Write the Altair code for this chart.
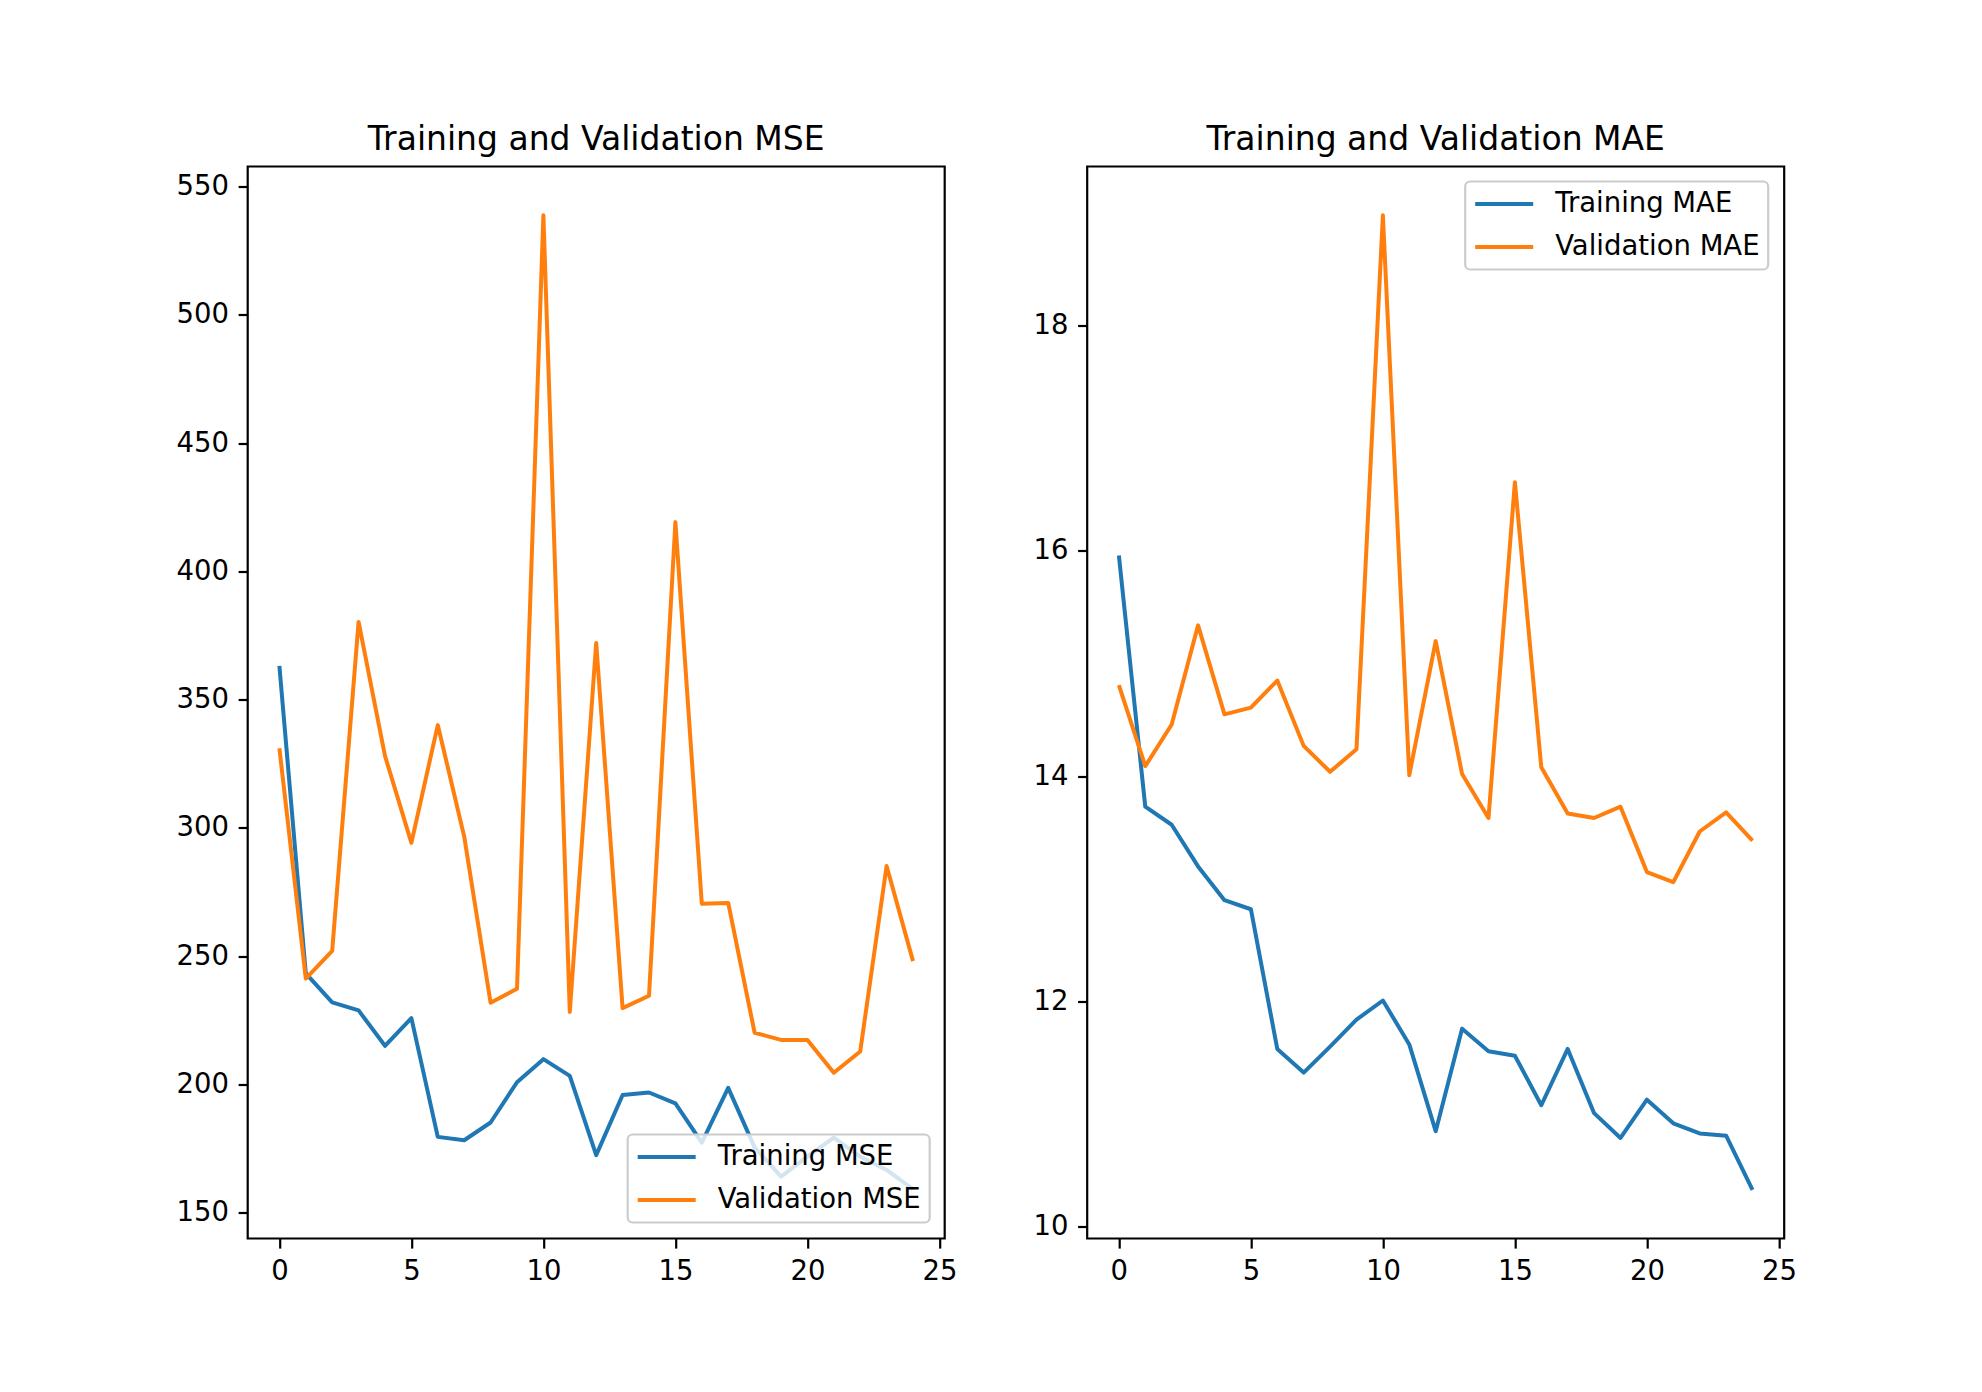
import altair as alt
import pandas as pd

epochs = [0, 1, 2, 3, 4, 5, 6, 7, 8, 9, 10, 11, 12, 13, 14, 15, 16, 17, 18, 19, 20, 21, 22, 23, 24]

train_mse = [363.2, 243.3, 232.0, 228.9, 215.1, 225.9, 179.6, 178.3, 185.2, 200.9,
             209.9, 203.4, 172.5, 195.9, 196.9, 192.7, 177.4, 198.7, 175.5, 164.1,
             171.9, 179.3, 171.9, 166.7, 159.2]
val_mse = [331.1, 241.3, 252.1, 380.3, 328.1, 294.2, 340.1, 296.7, 231.9, 237.3,
           538.8, 228.3, 372.1, 229.8, 234.6, 419.2, 270.5, 270.8, 220.2, 217.4,
           217.4, 204.6, 212.9, 285.2, 248.1]
train_mae = [15.96, 13.73, 13.57, 13.20, 12.90, 12.82, 11.58, 11.37, 11.60, 11.84,
             12.01, 11.62, 10.85, 11.76, 11.56, 11.52, 11.08, 11.58, 11.01, 10.79,
             11.13, 10.92, 10.83, 10.81, 10.33]
val_mae = [14.81, 14.09, 14.46, 15.34, 14.55, 14.61, 14.85, 14.27, 14.04, 14.24,
           18.98, 14.01, 15.20, 14.02, 13.63, 16.61, 14.08, 13.67, 13.63, 13.73,
           13.15, 13.06, 13.51, 13.68, 13.43]

mse_names = ["Training MSE", "Validation MSE"]
mae_names = ["Training MAE", "Validation MAE"]
x_ticks = [0, 5, 10, 15, 20, 25]
mse_ticks = [150, 200, 250, 300, 350, 400, 450, 500, 550]
mae_ticks = [10, 12, 14, 16, 18]
colors = ["#1f77b4", "#ff7f0e"]

FONT = "DejaVu Sans"


def make_df(train, val, names):
    rows = []
    for e, v in zip(epochs, train):
        rows.append({"epoch": e, "value": v, "series": names[0]})
    for e, v in zip(epochs, val):
        rows.append({"epoch": e, "value": v, "series": names[1]})
    return pd.DataFrame(rows)


def panel(df, title, names, ydomain, yticks, lx, ly):
    return alt.Chart(df).mark_line(strokeWidth=4, strokeJoin="round").encode(
        x=alt.X("epoch:Q",
                scale=alt.Scale(domain=[-1.2, 25.2], nice=False, zero=False),
                axis=alt.Axis(values=x_ticks, title=None, format="d")),
        y=alt.Y("value:Q",
                scale=alt.Scale(domain=ydomain, nice=False, zero=False),
                axis=alt.Axis(values=yticks, title=None, format="d")),
        color=alt.Color("series:N",
                        scale=alt.Scale(domain=names, range=colors),
                        legend=alt.Legend(title=None, orient="none",
                                          legendX=lx, legendY=ly)),
    ).properties(width=697, height=1072, title=title)


left = panel(make_df(train_mse, val_mse, mse_names), "Training and Validation MSE",
             mse_names, [140.0, 557.8], mse_ticks, 380, 968)
right = panel(make_df(train_mae, val_mae, mae_names), "Training and Validation MAE",
              mae_names, [9.8975, 19.4125], mae_ticks, 378, 15)

chart = alt.hconcat(left, right, spacing=72.5).resolve_scale(
    color="independent", x="independent", y="independent"
).resolve_legend(color="independent").properties(
    padding={"left": 166.7, "top": 113.5, "right": 0, "bottom": 0}
).configure_view(
    stroke="black", strokeWidth=2.2
).configure_axis(
    domain=False, grid=False, tickColor="black", tickSize=9.6, tickWidth=2.2,
    labelFont=FONT, labelFontSize=27.5, labelColor="black", labelPadding=9.6
).configure_title(
    font=FONT, fontSize=33, fontWeight="normal", color="black",
    anchor="middle", offset=10, baseline="alphabetic"
).configure_legend(
    labelFont=FONT, labelFontSize=27.5, labelColor="black", labelOffset=20,
    labelLimit=0, clipHeight=29,
    symbolType="stroke", symbolSize=3364, symbolStrokeWidth=4,
    rowPadding=14, padding=8, fillColor="rgba(255,255,255,0.8)",
    strokeColor="#cccccc", cornerRadius=5, strokeWidth=2.2
)

chart.save("out.html", embed_options={"renderer": "svg", "actions": False})
